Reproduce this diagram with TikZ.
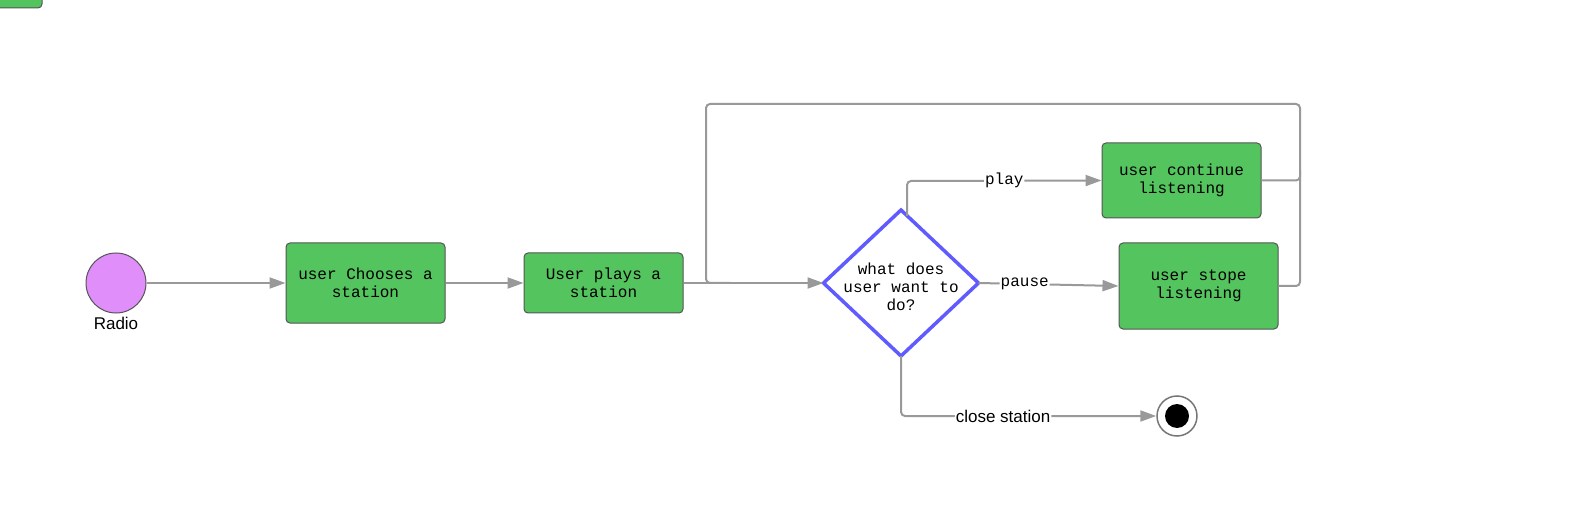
\documentclass[tikz,border=0pt]{standalone}
\usepackage{fontspec}
\setmainfont{Liberation Sans}
\newfontfamily\monofont{Liberation Mono}
\usetikzlibrary{arrows.meta,shapes.geometric}
\definecolor{boxgreen}{HTML}{54C45E}
\definecolor{boxedge}{HTML}{555555}
\definecolor{linegray}{HTML}{999999}
\definecolor{startpink}{HTML}{E08EFA}
\definecolor{diamblue}{HTML}{5F5BFF}
\begin{document}
\begin{tikzpicture}[x=1pt,y=-1pt,
  stepbox/.style={draw=boxedge,line width=1pt,fill=boxgreen,rounded corners=4pt,
    font=\monofont\fontsize{16}{18}\selectfont,align=center,inner sep=0pt},
  conn/.style={draw=linegray,line width=2pt,rounded corners=4pt},
  arr/.style={conn,-{Triangle[length=16pt,width=11pt]}},
  lbl/.style={fill=white,inner sep=1pt,font=\monofont\fontsize{16}{18}\selectfont},
  slbl/.style={fill=white,inner sep=1pt,font=\fontsize{17}{19}\selectfont}]
\useasboundingbox (0,0) rectangle (1574,521);
% partial box at top-left
\node[stepbox,minimum width=120pt,minimum height=40pt] (corner) at (-18,-12) {};
% start
\node[circle,draw=boxedge,line width=1pt,fill=startpink,minimum size=60pt,inner sep=0pt] (start) at (116,283) {};
\node[font=\fontsize{17}{19}\selectfont] (radio) at (116,323) {Radio};
% boxes
\node[stepbox,minimum width=159pt,minimum height=80pt] (choose) at (365.5,283) {user Chooses a\\station};
\node[stepbox,minimum width=159pt,minimum height=60pt] (plays) at (603.5,283) {User plays a\\station};
\node[diamond,draw=diamblue,line width=3.5pt,fill=white,minimum width=155pt,minimum height=146pt,inner sep=0pt,outer sep=0pt] (ask) at (901,283) {};
\node[font=\monofont\fontsize{16}{18}\selectfont,align=center,inner sep=0pt] (asktext) at (901,287) {what does\\user want to\\do?};
\node[stepbox,minimum width=159pt,minimum height=75pt] (cont) at (1181.5,180.5) {user continue\\listening};
\node[stepbox,minimum width=159pt,minimum height=86pt] (stope) at (1198.5,286) {user stope\\listening};
% end
\node[circle,draw=boxedge!80,line width=1.5pt,fill=white,minimum size=40pt,inner sep=0pt] (endst) at (1177,416) {};
\node[circle,fill=black,minimum size=24pt,inner sep=0pt] (enddot) at (endst) {};
% connectors
\draw[arr] (start.east) -- (choose.west);
\draw[arr] (choose.east) -- (plays.west);
\draw[arr] (plays.east) -- (ask.west);
\coordinate (loopR) at (1300,104);
\coordinate (loopL) at (706,104);
\coordinate (join) at (706,283);
\draw[conn] (cont.east) -- (1300,180.5) -- (loopR) -- (loopL) -- (join) -- (730,283);
\draw[conn] (stope.east) -- (1300,286) -- (1300,170);
\draw[arr] (907,216) -- (907,181) -- node[lbl,pos=0.5] {play} (cont.west);
\draw[arr] (ask.east) -- node[lbl,pos=0.33] {pause} (stope.west);
\draw[arr] (ask.south) -- (901,416) -- node[slbl,pos=0.4] {close station} (endst.west);
\end{tikzpicture}
\end{document}
